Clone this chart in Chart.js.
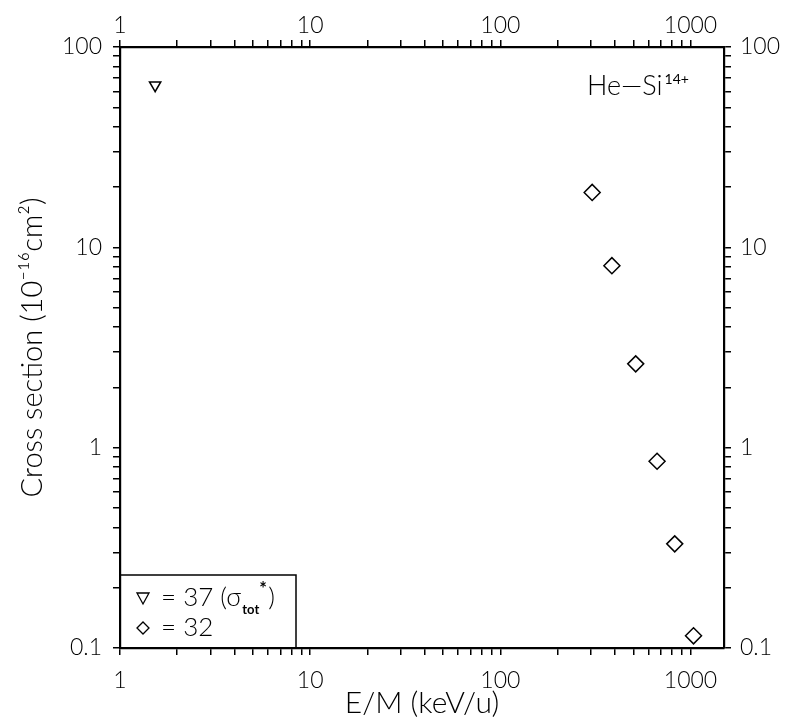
<!DOCTYPE html>
<html>
<head>
<meta charset="utf-8">
<script src="https://cdn.jsdelivr.net/npm/chart.js@4.4.1/dist/chart.umd.min.js"></script>
<style>
  body { margin: 0; background: #fff; }
  #wrap { width: 786px; height: 724px; }
</style>
</head>
<body>
<div id="wrap"><canvas id="plot" width="786" height="724"></canvas></div>
<script>
// data (E/M in keV/u, cross section in 1e-16 cm^2)
const triEnergy = [1.53];
const triSigma = [64.5];
const diaEnergy = [304, 386, 515, 667, 826, 1037];
const diaSigma = [18.8, 8.1, 2.62, 0.855, 0.331, 0.115];

const xRange = [1, 1500];
const yRange = [0.1, 100];
const xTitle = 'E/M (keV/u)';
const yTitle = 'Cross section (10\u207B\u00B9\u2076cm\u00B2)';
const systemLabel = 'He\u2014Si';
const chargeLabel = '14+';
const legendRows = ['= 37 (\u03C3', '= 32'];

const FONT = 'Lato, "Liberation Sans", sans-serif';

function toPoints(xs, ys) {
  return xs.map((x, i) => ({ x: x, y: ys[i] }));
}

function isDecade(v) {
  const l = Math.log10(v);
  return Math.abs(l - Math.round(l)) < 1e-6;
}

function keepNice(scale) {
  scale.ticks = scale.ticks.filter(t => {
    const e = Math.floor(Math.log10(t.value) + 1e-9);
    const m = t.value / Math.pow(10, e);
    return Math.abs(m - Math.round(m)) < 1e-6;
  });
}

function fmt(v) {
  if (!isDecade(v)) return '';
  return v < 1 ? v.toFixed(1) : String(Math.round(v));
}

function logAxis(position, range, size, padding, title) {
  const horizontal = position === 'top' || position === 'bottom';
  return {
    type: 'logarithmic',
    position: position,
    min: range[0],
    max: range[1],
    afterBuildTicks: keepNice,
    afterFit: s => { if (horizontal) s.height = size; else s.width = size; },
    border: { display: true, color: '#000', width: 2.2 },
    grid: { drawOnChartArea: false, drawTicks: true, tickLength: 7, color: '#000', lineWidth: 1.5 },
    ticks: {
      autoSkip: false, maxRotation: 0, padding: padding, color: '#000',
      font: { family: FONT, size: 23, weight: '300' },
      callback: v => fmt(v)
    },
    title: title || { display: false }
  };
}

const notes = {
  id: 'notes',
  afterDraw(chart) {
    const { ctx, chartArea: a } = chart;
    ctx.save();
    ctx.fillStyle = '#000';
    ctx.strokeStyle = '#000';
    ctx.textAlign = 'left';
    ctx.textBaseline = 'alphabetic';

    // system label in the upper right corner
    ctx.font = '300 27px ' + FONT;
    const sx = a.right - 137;
    ctx.fillText(systemLabel, sx, a.top + 48);
    const sw = ctx.measureText(systemLabel).width;
    ctx.font = '14px ' + FONT;
    ctx.fillText(chargeLabel, sx + sw + 2, a.top + 37);

    // legend box in the lower left corner
    const bw = 176, bh = 73;
    const bx = a.left, by = a.bottom - bh;
    ctx.lineWidth = 1.5;
    ctx.strokeRect(bx, by, bw, bh);

    const mx = bx + 23;
    const r1 = by + 23, r2 = by + 53;
    ctx.lineWidth = 1.3;
    // down triangle
    ctx.beginPath();
    ctx.moveTo(mx - 6, r1 - 5);
    ctx.lineTo(mx + 6, r1 - 5);
    ctx.lineTo(mx, r1 + 6);
    ctx.closePath();
    ctx.stroke();
    // diamond
    ctx.beginPath();
    ctx.moveTo(mx - 6, r2);
    ctx.lineTo(mx, r2 - 6);
    ctx.lineTo(mx + 6, r2);
    ctx.lineTo(mx, r2 + 6);
    ctx.closePath();
    ctx.stroke();

    ctx.textBaseline = 'middle';
    ctx.font = '300 26px ' + FONT;
    const tx = bx + 41;
    ctx.fillText(legendRows[0], tx, r1);
    const w = ctx.measureText(legendRows[0]).width;
    ctx.font = 'bold 13px ' + FONT;
    ctx.fillText('tot', tx + w + 1, r1 + 12);
    const tw = ctx.measureText('tot').width;
    ctx.font = 'bold 18px ' + FONT;
    ctx.fillText('*', tx + w + tw + 1, r1 - 9);
    ctx.font = '300 26px ' + FONT;
    ctx.fillText(')', tx + w + tw + 10, r1);
    ctx.fillText(legendRows[1], tx, r2);
    ctx.restore();
  }
};

new Chart(document.getElementById('plot'), {
  type: 'scatter',
  data: {
    datasets: [
      {
        label: '37 (sigma tot*)',
        data: toPoints(triEnergy, triSigma),
        pointStyle: 'triangle',
        rotation: 180,
        radius: 6.5,
        borderColor: '#000',
        backgroundColor: 'rgba(0,0,0,0)',
        borderWidth: 1.5,
        xAxisID: 'x',
        yAxisID: 'y'
      },
      {
        label: '32',
        data: toPoints(diaEnergy, diaSigma),
        pointStyle: 'rectRot',
        radius: 8,
        borderColor: '#000',
        backgroundColor: 'rgba(0,0,0,0)',
        borderWidth: 1.5,
        xAxisID: 'x',
        yAxisID: 'y'
      }
    ]
  },
  options: {
    responsive: false,
    animation: false,
    layout: { padding: 0 },
    plugins: { legend: { display: false }, tooltip: { enabled: false } },
    scales: {
      x: logAxis('bottom', xRange, 76, 12, {
        display: true, text: xTitle, color: '#000',
        font: { family: FONT, size: 30, weight: '300' }, padding: { top: 0, bottom: 3 }
      }),
      x2: logAxis('top', xRange, 47, 1),
      y: logAxis('left', yRange, 120, 11, {
        display: true, text: yTitle, color: '#000',
        font: { family: FONT, size: 29, weight: '300' }, padding: { top: 15, bottom: 0 }
      }),
      y2: logAxis('right', yRange, 62, 9)
    }
  },
  plugins: [notes]
});
</script>
</body>
</html>
